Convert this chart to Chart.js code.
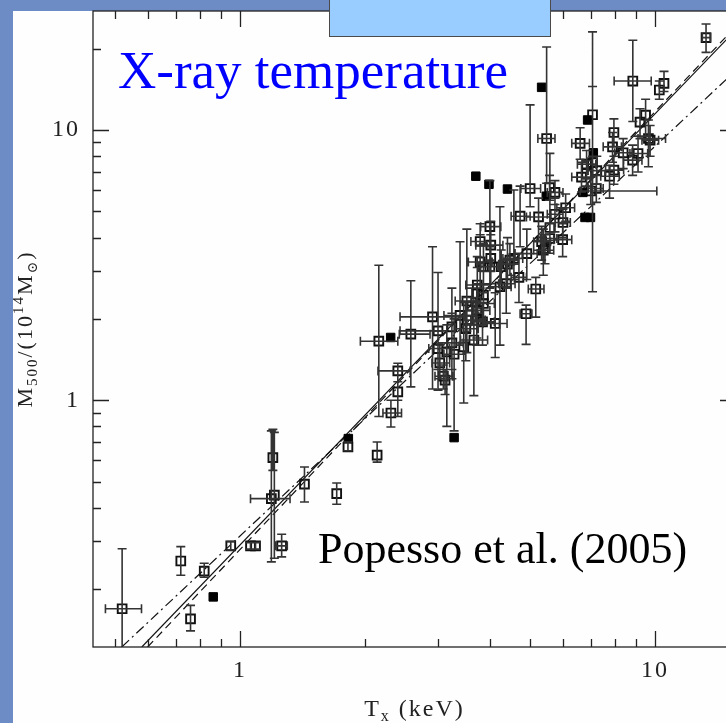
<!DOCTYPE html>
<html>
<head>
<meta charset="utf-8">
<title>M500 - Tx relation</title>
<script src="https://cdn.jsdelivr.net/npm/chart.js@4.4.0/dist/chart.umd.min.js"></script>
<style>
    html, body { margin: 0; padding: 0; overflow: hidden; background: #6d8bc4; width: 726px; height: 723px; }
    #sheet { position: absolute; left: 13px; top: 11px; width: 760px; height: 723px; background: #fefefe; }
    #plot { position: absolute; left: 0; top: 0; }
    #tab { position: absolute; left: 329px; top: -1px; width: 220px; height: 36px; background: #99ccff; border: 1px solid #4a4a4a; }
</style>
</head>
<body>
<div id="sheet"></div>
<canvas id="plot" width="760" height="723"></canvas>
<div id="tab"></div>
<script>
// Axis limits (keV, 1e14 Msun)
const xMin = 0.4424, xMax = 15.67;
const yMin = 0.122, yMax = 27.6;
const xLabels = [1, 10];
const yLabels = [1, 10];

// Clusters with errors: T, M and error bar ends (0 = no bar)
const openT = [0.52, 0.72, 0.82, 0.76, 0.95, 1.06, 1.09, 1.26, 1.20, 1.19,
    1.21, 1.43, 1.71, 1.82, 2.14, 2.16, 2.58, 2.40, 2.40, 2.31,
    2.91, 3.00, 3.24, 3.00, 3.24, 3.15, 3.03, 3.09, 3.12, 3.28,
    3.46, 3.66, 3.50, 3.39, 3.72, 4.12, 3.52, 3.73, 3.86, 4.02,
    4.02, 4.00, 4.41, 4.57, 4.70, 4.38, 4.23, 4.91, 5.38, 5.16,
    4.89, 3.52, 3.72, 3.62, 3.86, 3.79, 3.86, 3.73, 3.84, 5.00,
    5.57, 5.74, 6.09, 5.74, 5.24, 4.73, 4.00, 5.58, 5.99, 5.58,
    5.33, 5.43, 4.47, 4.26, 6.84, 6.84, 7.24, 7.22, 7.00, 6.65,
    7.77, 7.96, 8.38, 8.83, 9.10, 7.90, 9.73, 7.07, 7.07, 13.27,
    8.84, 10.51, 10.24, 5.48, 6.60, 7.96, 9.49, 9.20, 9.64, 6.00,
    3.79];
const openM = [0.169, 0.254, 0.233, 0.155, 0.289, 0.289, 0.289, 0.289, 0.613, 0.432,
    0.445, 0.489, 0.451, 0.671, 0.626, 1.654, 1.756, 1.284, 1.074, 0.897,
    2.035, 1.806, 1.868, 1.553, 1.63, 1.51, 1.374, 1.227, 1.186, 1.48,
    1.576, 1.67, 1.84, 2.06, 2.15, 1.924, 2.33, 2.67, 2.45, 3.75,
    3.35, 3.12, 3.19, 3.35, 2.85, 2.70, 2.63, 3.49, 3.59, 2.58,
    2.09, 1.98, 1.98, 2.23, 2.28, 3.25, 3.12, 2.48, 1.95, 6.08,
    6.12, 5.88, 5.16, 4.88, 4.77, 4.80, 4.39, 4.36, 3.93, 3.97,
    3.86, 3.64, 3.30, 3.12, 7.48, 6.91, 7.08, 6.08, 5.95, 6.70,
    6.75, 7.11, 8.24, 7.74, 8.19, 8.67, 9.18, 11.4, 7.58, 22.0,
    15.19, 14.89, 14.07, 9.31, 8.93, 9.80, 11.36, 10.7, 9.31, 4.55,
    3.87];
const openTLo = [0.474, 0, 0, 0, 0, 0, 0, 1.22, 0, 1.06,
    0, 0, 0, 0, 0, 1.95, 2.42, 2.15, 0, 2.21,
    2.43, 2.43, 0, 2.85, 3.00, 0, 2.90, 2.95, 0, 3.10,
    0, 3.40, 3.30, 3.10, 3.50, 3.85, 3.30, 3.50, 0, 3.70,
    0, 3.80, 4.20, 4.30, 4.50, 4.20, 4.00, 4.60, 5.10, 4.95,
    4.73, 0, 3.50, 0, 3.70, 3.55, 0, 0, 3.60, 4.75,
    0, 5.50, 5.80, 5.50, 4.90, 4.50, 3.80, 0, 5.70, 5.30,
    5.10, 0, 4.30, 0, 6.50, 0, 6.90, 6.90, 6.60, 6.30,
    7.40, 7.60, 8.00, 8.40, 8.70, 7.50, 9.30, 0, 0, 13.0,
    7.97, 0, 0, 5.22, 6.30, 0, 0, 0, 9.10, 5.75,
    3.60];
const openTHi = [0.579, 0, 0, 0, 0, 0, 0, 1.30, 0, 1.32,
    0, 0, 0, 0, 0, 2.40, 2.87, 2.57, 0, 2.45,
    3.49, 3.15, 0, 3.20, 3.45, 0, 3.20, 3.25, 0, 3.50,
    0, 3.95, 3.75, 3.70, 4.00, 4.40, 3.80, 4.00, 0, 4.30,
    0, 4.20, 4.70, 4.80, 4.90, 4.60, 4.50, 5.20, 5.70, 5.40,
    5.05, 0, 3.90, 0, 4.10, 4.05, 0, 0, 4.10, 5.30,
    0, 6.00, 6.40, 6.00, 5.60, 5.00, 4.25, 0, 6.30, 5.80,
    5.60, 0, 4.70, 0, 7.20, 0, 7.60, 7.50, 10.1, 7.00,
    8.20, 8.40, 8.80, 9.30, 9.60, 8.30, 10.2, 0, 0, 13.6,
    9.79, 0, 0, 5.74, 6.95, 0, 0, 0, 10.6, 6.25,
    4.00];
const openMLo = [0.08, 0.225, 0.221, 0.140, 0.279, 0.281, 0.281, 0.263, 0.55, 0.252,
    0.26, 0.42, 0.412, 0.65, 0.59, 0.87, 1.12, 0.87, 1.00, 0.796,
    1.10, 1.09, 1.20, 1.30, 1.30, 0.80, 1.20, 1.10, 1.05, 0.77,
    0.977, 1.04, 1.40, 1.60, 1.70, 1.44, 1.80, 2.20, 2.00, 3.00,
    2.70, 2.60, 2.60, 2.80, 2.30, 2.10, 1.60, 2.80, 2.90, 2.03,
    1.61, 1.50, 1.60, 1.90, 1.90, 2.60, 2.50, 2.10, 1.60, 5.20,
    5.50, 5.30, 4.60, 4.20, 3.90, 3.70, 3.30, 3.90, 3.40, 3.50,
    3.30, 3.20, 2.90, 2.70, 6.60, 6.20, 6.30, 5.40, 5.30, 5.90,
    5.60, 6.30, 7.20, 6.80, 7.00, 7.60, 8.00, 8.00, 2.52, 19.4,
    10.76, 13.9, 13.0, 6.36, 7.80, 8.70, 9.50, 9.30, 7.32, 4.00,
    3.20];
const openMHi = [0.282, 0.287, 0.249, 0.174, 0.300, 0.297, 0.297, 0.319, 0.78, 0.77,
    0.76, 0.566, 0.494, 0.70, 0.70, 3.16, 2.77, 1.37, 1.17, 1.00,
    3.70, 2.97, 2.60, 1.80, 2.10, 1.90, 1.60, 1.35, 1.30, 2.00,
    2.30, 2.40, 2.30, 3.86, 2.70, 2.50, 4.30, 3.40, 3.00, 4.60,
    4.10, 3.70, 4.00, 6.00, 3.50, 3.30, 5.20, 4.30, 4.30, 2.85,
    2.25, 2.40, 2.40, 2.60, 2.70, 4.10, 3.80, 3.10, 2.30, 12.4,
    6.80, 6.50, 5.80, 5.60, 5.60, 6.20, 6.50, 8.20, 4.50, 4.50,
    4.40, 4.10, 3.80, 3.60, 8.40, 7.70, 8.00, 6.80, 6.70, 7.60,
    7.40, 8.00, 9.30, 8.80, 9.50, 9.80, 10.4, 23.1, 14.5, 24.7,
    21.5, 16.5, 15.2, 20.3, 10.2, 11.0, 13.0, 12.0, 10.9, 5.10,
    4.50];

// Clusters plotted as filled squares
const fillT = [0.862, 1.824, 2.307, 3.28, 3.70, 3.98, 4.41, 5.33, 5.47, 6.70, 6.78, 6.99, 7.10, 6.88];
const fillM = [0.187, 0.721, 1.707, 0.727, 6.75, 6.30, 6.05, 14.4, 5.69, 5.88, 4.75, 4.75, 8.24, 10.9];

// Fitted relations (end points)
const solidT = [0.580, 15.7], solidM = [0.122, 23.6];
const dashT = [0.599, 15.7], dashM = [0.122, 24.3];
const dotDashT = [0.519, 15.7], dotDashM = [0.122, 16.7];

const serif = '"Liberation Serif", "DejaVu Serif", serif';
const toPoints = (xs, ys) => xs.map((x, i) => ({ x: x, y: ys[i] }));

// Error bars drawn over the squares
const errorBars = {
    id: 'errorBars',
    afterDatasetsDraw(chart) {
        const { ctx, chartArea: a, scales: { x, y } } = chart;
        const cap = 4.5;
        ctx.save();
        ctx.beginPath();
        ctx.rect(a.left, a.top, a.right - a.left, a.bottom - a.top);
        ctx.clip();
        ctx.strokeStyle = '#333';
        ctx.lineWidth = 1.6;
        ctx.beginPath();
        openT.forEach((t, i) => {
            const px = x.getPixelForValue(t);
            const py = y.getPixelForValue(openM[i]);
            if (openMLo[i]) {
                const y0 = y.getPixelForValue(openMLo[i]);
                const y1 = y.getPixelForValue(openMHi[i]);
                ctx.moveTo(px, y0); ctx.lineTo(px, y1);
                ctx.moveTo(px - cap, y0); ctx.lineTo(px + cap, y0);
                ctx.moveTo(px - cap, y1); ctx.lineTo(px + cap, y1);
            }
            if (openTLo[i]) {
                const x0 = x.getPixelForValue(openTLo[i]);
                const x1 = x.getPixelForValue(openTHi[i]);
                ctx.moveTo(x0, py); ctx.lineTo(x1, py);
                ctx.moveTo(x0, py - cap); ctx.lineTo(x0, py + cap);
                ctx.moveTo(x1, py - cap); ctx.lineTo(x1, py + cap);
            }
        });
        ctx.stroke();
        ctx.restore();
    }
};

// Box frame with inward log ticks on all four sides
function logTicks(lo, hi) {
    const out = [];
    for (let e = -2; e <= 2; e++) {
        for (let m = 1; m <= 9; m++) {
            const v = m * Math.pow(10, e);
            if (v > lo && v < hi) out.push({ v: v, major: m === 1 });
        }
    }
    return out;
}

const frameTicks = {
    id: 'frameTicks',
    beforeDraw(chart) {
        chart.ctx.letterSpacing = '2px';
    },
    afterDraw(chart) {
        const { ctx, chartArea: a, scales: { x, y } } = chart;
        ctx.save();
        ctx.strokeStyle = '#222';
        ctx.lineWidth = 1.3;
        ctx.strokeRect(a.left, a.top, a.right - a.left, a.bottom - a.top);
        ctx.beginPath();
        logTicks(xMin, xMax).forEach(t => {
            const px = Math.round(x.getPixelForValue(t.v)) + 0.5;
            const len = t.major ? 16 : 8;
            ctx.moveTo(px, a.bottom); ctx.lineTo(px, a.bottom - len);
            ctx.moveTo(px, a.top); ctx.lineTo(px, a.top + len);
        });
        logTicks(yMin, yMax).forEach(t => {
            const py = Math.round(y.getPixelForValue(t.v)) + 0.5;
            const len = t.major ? 16 : 8;
            ctx.moveTo(a.left, py); ctx.lineTo(a.left + len, py);
            ctx.moveTo(a.right, py); ctx.lineTo(a.right - len, py);
        });
        ctx.stroke();
        ctx.restore();
    }
};

// Draws a run of text pieces with sub/superscripts, returns its width
function drawPieces(ctx, pieces, x0, y0, measureOnly) {
    let cx = x0;
    pieces.forEach(p => {
        ctx.font = p.size + 'px ' + serif;
        if (!measureOnly) ctx.fillText(p.text, cx, y0 + (p.dy || 0));
        cx += ctx.measureText(p.text).width;
    });
    return cx - x0;
}

const labels = {
    id: 'labels',
    afterDraw(chart) {
        const { ctx, chartArea: a } = chart;
        ctx.save();
        ctx.letterSpacing = '2px';
        ctx.fillStyle = '#222';
        ctx.textBaseline = 'alphabetic';
        ctx.textAlign = 'left';

        // x axis title
        const xTitle = [
            { text: 'T', size: 24 },
            { text: 'x', size: 16, dy: 5 },
            { text: ' (keV)', size: 24 }
        ];
        const wx = drawPieces(ctx, xTitle, 0, 0, true);
        drawPieces(ctx, xTitle, (a.left + a.right) / 2 - wx / 2, 716);

        // y axis title, rotated
        const yTitle = [
            { text: 'M', size: 22 },
            { text: '500', size: 15, dy: 5 },
            { text: '/(10', size: 22 },
            { text: '14', size: 15, dy: -9 },
            { text: 'M', size: 22 },
            { text: '\u2299', size: 14, dy: 5 },
            { text: ')', size: 22 }
        ];
        const wy = drawPieces(ctx, yTitle, 0, 0, true);
        ctx.translate(32, (a.top + a.bottom) / 2);
        ctx.rotate(-Math.PI / 2);
        drawPieces(ctx, yTitle, -wy / 2, 0);
        ctx.restore();

        // panel captions
        ctx.save();
        ctx.letterSpacing = '0px';
        ctx.textBaseline = 'alphabetic';
        ctx.textAlign = 'left';
        ctx.font = '53px ' + serif;
        ctx.fillStyle = '#0000ff';
        ctx.fillText('X-ray temperature', 118, 88);
        ctx.font = '44px ' + serif;
        ctx.fillStyle = '#000';
        ctx.fillText('Popesso et al. (2005)', 318, 563);
        ctx.restore();
    }
};

// Fixed axis boxes so the plot frame sits at 93..736 x 11..647
function fixPadding(axis) {
    axis.paddingTop = 0;
    axis.paddingBottom = 0;
    axis.paddingLeft = 0;
    axis.paddingRight = 0;
}

const canvas = document.getElementById('plot');
new Chart(canvas.getContext('2d'), {
    type: 'scatter',
    data: {
        datasets: [
            {
                label: 'filled',
                data: toPoints(fillT, fillM),
                pointStyle: 'rect',
                pointRadius: 6,
                backgroundColor: '#000',
                borderColor: '#000',
                borderWidth: 1,
                order: 0
            },
            {
                label: 'open',
                data: toPoints(openT, openM),
                pointStyle: 'rect',
                pointRadius: 6.2,
                backgroundColor: 'rgba(0,0,0,0)',
                borderColor: '#111',
                borderWidth: 1.9,
                order: 1
            },
            {
                type: 'line',
                label: 'fit',
                data: toPoints(solidT, solidM),
                borderColor: '#111',
                borderWidth: 1.2,
                pointRadius: 0,
                order: 2
            },
            {
                type: 'line',
                label: 'fit dashed',
                data: toPoints(dashT, dashM),
                borderColor: '#111',
                borderWidth: 1.2,
                borderDash: [8, 5],
                pointRadius: 0,
                order: 3
            },
            {
                type: 'line',
                label: 'fit dot-dash',
                data: toPoints(dotDashT, dotDashM),
                borderColor: '#111',
                borderWidth: 1.2,
                borderDash: [10, 4, 2, 4],
                pointRadius: 0,
                order: 4
            }
        ]
    },
    options: {
        responsive: false,
        animation: false,
        events: [],
        layout: { padding: { left: 0, top: 11, right: 24, bottom: 0 } },
        plugins: { legend: { display: false }, tooltip: { enabled: false } },
        scales: {
            x: {
                type: 'logarithmic',
                min: xMin,
                max: xMax,
                grid: { display: false, drawTicks: false },
                border: { display: false },
                afterBuildTicks: axis => { axis.ticks = xLabels.map(v => ({ value: v })); },
                afterFit: axis => { axis.height = 76; fixPadding(axis); },
                ticks: {
                    autoSkip: false,
                    maxRotation: 0,
                    padding: 9,
                    color: '#222',
                    font: { family: serif, size: 24 },
                    callback: v => String(v)
                }
            },
            y: {
                type: 'logarithmic',
                min: yMin,
                max: yMax,
                grid: { display: false, drawTicks: false },
                border: { display: false },
                afterBuildTicks: axis => { axis.ticks = yLabels.map(v => ({ value: v })); },
                afterFit: axis => { axis.width = 93; fixPadding(axis); },
                ticks: {
                    autoSkip: false,
                    padding: 13,
                    color: '#222',
                    font: { family: serif, size: 24 },
                    callback: v => String(v)
                }
            }
        }
    },
    plugins: [errorBars, frameTicks, labels]
});
</script>
</body>
</html>
